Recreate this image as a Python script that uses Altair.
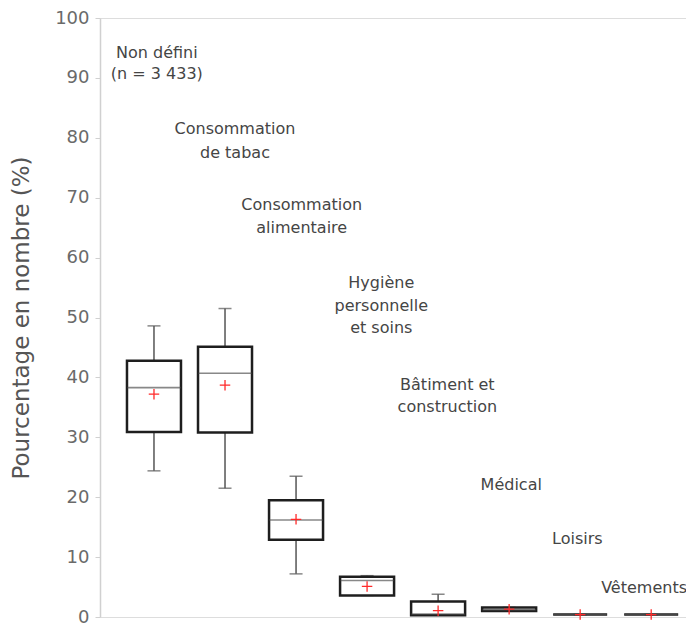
import altair as alt
import pandas as pd

categories = ["Non défini", "Consommation de tabac", "Consommation alimentaire",
              "Hygiène personnelle et soins", "Bâtiment et construction",
              "Médical", "Loisirs", "Vêtements"]
whisker_low = [24.4, 21.5, 7.2, 3.6, 0.3, 1.0, 0.4, 0.4]
q1 = [30.9, 30.8, 12.9, 3.6, 0.3, 1.0, 0.4, 0.4]
median = [38.3, 40.7, 16.2, 6.1, 0.5, 1.2, 0.4, 0.4]
q3 = [42.8, 45.1, 19.5, 6.7, 2.6, 1.6, 0.4, 0.4]
whisker_high = [48.6, 51.5, 23.5, 6.9, 3.8, 1.6, 0.4, 0.4]
mean = [37.2, 38.7, 16.3, 5.1, 1.05, 1.3, 0.4, 0.4]

# annotation lines: (category index, text, y of line centre, horizontal shift in category units)
label_idx = [0, 0, 1, 1, 2, 2, 3, 3, 3, 4, 4, 5, 6, 7]
label_text = ["Non défini", "(n = 3 433)", "Consommation", "de tabac",
              "Consommation", "alimentaire", "Hygiène", "personnelle", "et soins",
              "Bâtiment et", "construction", "Médical", "Loisirs", "Vêtements"]
label_y = [94.2, 90.6, 81.4, 77.5, 68.8, 64.9, 55.7, 51.9, 48.2, 38.8, 35.0, 22.1, 13.1, 4.9]
label_shift = [0.04, 0.04, 0.14, 0.14, 0.08, 0.08, 0.2, 0.2, 0.2, 0.13, 0.13, 0.03, -0.04, -0.1]

df = pd.DataFrame({
    "idx": list(range(len(categories))),
    "cat": categories,
    "low": whisker_low, "q1": q1, "med": median, "q3": q3,
    "high": whisker_high, "mean": mean,
})
lab = pd.DataFrame({
    "x": [i + s for i, s in zip(label_idx, label_shift)],
    "y": label_y,
    "t": label_text,
})

xs = alt.Scale(domain=[-0.76, 7.49], nice=False, zero=False, padding=0)
ys = alt.Scale(domain=[0, 100], nice=False, padding=0)

X = alt.X("idx:Q", scale=xs, axis=None)
Y_axis = alt.Axis(values=list(range(0, 101, 10)), grid=False, tickSize=5,
                  labelPadding=6, labelFontSize=18, labelColor="#6a6a6a",
                  labelFont="DejaVu Sans", domainColor="#d0d0d0", tickColor="#d0d0d0",
                  domainWidth=1.5, tickWidth=1, title="Pourcentage en nombre (%)",
                  titleFontSize=23, titleFont="DejaVu Sans", titleFontWeight="normal",
                  titleColor="#555555", titlePadding=21)

base = alt.Chart(df)

whisk = base.mark_rule(color="#555555", strokeWidth=1.5).encode(
    x=X, y=alt.Y("low:Q", scale=ys, axis=Y_axis), y2="high:Q")
cap_lo = base.mark_tick(orient="horizontal", size=13, thickness=1.5, color="#555555").encode(
    x=X, y=alt.Y("low:Q", scale=ys))
cap_hi = base.mark_tick(orient="horizontal", size=13, thickness=1.5, color="#555555").encode(
    x=X, y=alt.Y("high:Q", scale=ys))
box = base.mark_bar(size=54, orient="vertical", fill="white", stroke="#1e1e1e",
                    strokeWidth=2.5).encode(
    x=X, y=alt.Y("q1:Q", scale=ys), y2="q3:Q")
med = base.mark_tick(orient="horizontal", size=53, thickness=1.6, color="#555555").encode(
    x=X, y=alt.Y("med:Q", scale=ys))
mn = base.mark_point(shape="M-1,0L1,0M0,-1L0,1", filled=False, stroke="#ff2a2a",
                     strokeWidth=1.3, size=110, opacity=1).encode(
    x=X, y=alt.Y("mean:Q", scale=ys))

txt = alt.Chart(lab).mark_text(font="DejaVu Sans", fontSize=16, color="#454545",
                               align="center", baseline="middle").encode(
    x=alt.X("x:Q", scale=xs, axis=None), y=alt.Y("y:Q", scale=ys), text="t:N")

chart = alt.layer(whisk, cap_lo, cap_hi, box, med, mn, txt).properties(
    width=586, height=599,
    autosize=alt.AutoSizeParams(type="none"),
    padding={"left": 92, "top": 10, "right": 0, "bottom": 10},
).configure_view(stroke=None).configure(background="white")

chart.save("out.html", embed_options={"renderer": "svg", "actions": False})
